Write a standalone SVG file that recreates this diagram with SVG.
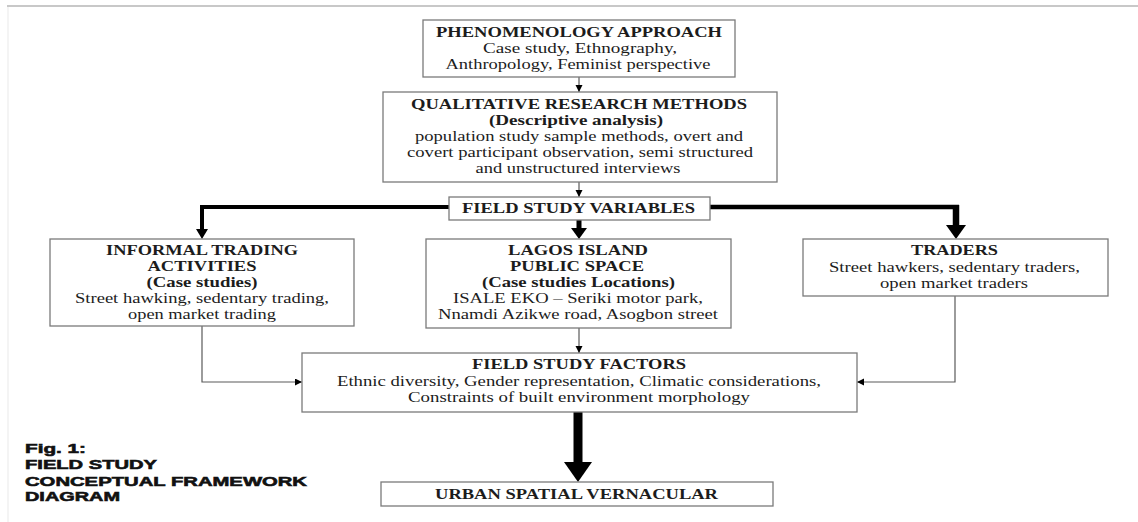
<svg xmlns="http://www.w3.org/2000/svg" width="1138" height="522" viewBox="0 0 1138 522">
<defs>
<style>
.box{fill:#fff;stroke:#7a7a7a;stroke-width:1.3}
.t{font-family:"Liberation Serif","Times New Roman",serif;fill:#1c1c1c;text-anchor:middle}
.b{font-weight:bold;font-size:14.5px}
.r{font-size:15.5px}
.thin{fill:none;stroke:#5a5a5a;stroke-width:1.2}
.thick{fill:none;stroke:#000}
.head{fill:#000}
.fig{font-family:"Liberation Sans",Arial,sans-serif;font-weight:bold;font-size:13.5px;fill:#111;stroke:#111;stroke-width:0.6}
</style>
<marker id="ah" markerUnits="userSpaceOnUse" markerWidth="8" markerHeight="8" refX="7" refY="3.5" orient="auto">
<path d="M0,0 L7,3.5 L0,7 z" fill="#000"/>
</marker>
</defs>
<rect x="0" y="0" width="1138" height="522" fill="#fff"/>
<line x1="7" y1="6" x2="1138" y2="6" stroke="#c8c8c8" stroke-width="2"/>
<line x1="8" y1="7" x2="8" y2="522" stroke="#f0f0f0" stroke-width="1.5"/>

<g id="connectors">
<path class="thin" d="M579,77 V92" marker-end="url(#ah)"/>
<path class="thin" d="M579,182 V197" marker-end="url(#ah)"/>
<path class="thin" d="M579,328 V353" marker-end="url(#ah)"/>
<path class="thin" d="M202,326 V382 H302" marker-end="url(#ah)"/>
<path class="thin" d="M955,296 V382 H857" marker-end="url(#ah)"/>
<path class="thick" stroke-width="4" d="M449,207 H202 V230"/>
<polygon class="head" points="196,229 208,229 202,239"/>
<path class="thick" stroke-width="4.5" d="M710,207 H959"/>
<path class="thick" stroke-width="6.5" d="M956,205 V226"/>
<polygon class="head" points="946,225 966,225 956,239"/>
<path class="thick" stroke-width="5" d="M579,220 V230"/>
<polygon class="head" points="571,228 587,228 579,239"/>
<path class="thick" stroke-width="9" d="M578,412 V463"/>
<polygon class="head" points="564,462 592,462 578,482"/>
</g>

<g id="phenomenology">
<rect class="box" x="423" y="20" width="312" height="57"/>
<text class="t b" x="579" y="37" textLength="286" lengthAdjust="spacingAndGlyphs">PHENOMENOLOGY APPROACH</text>
<text class="t r" x="580" y="53" textLength="194" lengthAdjust="spacingAndGlyphs">Case study, Ethnography,</text>
<text class="t r" x="578" y="69" textLength="265" lengthAdjust="spacingAndGlyphs">Anthropology, Feminist perspective</text>
</g>

<g id="qualitative">
<rect class="box" x="383" y="92" width="394" height="90"/>
<text class="t b" x="579" y="109" textLength="336" lengthAdjust="spacingAndGlyphs">QUALITATIVE RESEARCH METHODS</text>
<text class="t b" x="576" y="125" textLength="174" lengthAdjust="spacingAndGlyphs">(Descriptive analysis)</text>
<text class="t r" x="579" y="141" textLength="328" lengthAdjust="spacingAndGlyphs">population study sample methods, overt and</text>
<text class="t r" x="580" y="157" textLength="346" lengthAdjust="spacingAndGlyphs">covert participant observation, semi structured</text>
<text class="t r" x="578" y="173" textLength="205" lengthAdjust="spacingAndGlyphs">and unstructured interviews</text>
</g>

<g id="variables">
<rect class="box" x="449" y="197" width="261" height="23"/>
<text class="t b" x="578.5" y="213" textLength="233" lengthAdjust="spacingAndGlyphs">FIELD STUDY VARIABLES</text>
</g>

<g id="informal">
<rect class="box" x="50" y="239" width="304" height="87"/>
<text class="t b" x="202" y="255" textLength="192" lengthAdjust="spacingAndGlyphs">INFORMAL TRADING</text>
<text class="t b" x="202" y="271" textLength="109" lengthAdjust="spacingAndGlyphs">ACTIVITIES</text>
<text class="t b" x="202" y="287" textLength="111" lengthAdjust="spacingAndGlyphs">(Case studies)</text>
<text class="t r" x="202" y="303" textLength="254" lengthAdjust="spacingAndGlyphs">Street hawking, sedentary trading,</text>
<text class="t r" x="202" y="319" textLength="148" lengthAdjust="spacingAndGlyphs">open market trading</text>
</g>

<g id="lagos">
<rect class="box" x="426" y="239" width="305" height="89"/>
<text class="t b" x="578" y="255" textLength="140" lengthAdjust="spacingAndGlyphs">LAGOS ISLAND</text>
<text class="t b" x="577" y="271" textLength="134" lengthAdjust="spacingAndGlyphs">PUBLIC SPACE</text>
<text class="t b" x="578.5" y="287" textLength="193" lengthAdjust="spacingAndGlyphs">(Case studies Locations)</text>
<text class="t r" x="578" y="303" textLength="250" lengthAdjust="spacingAndGlyphs">ISALE EKO – Seriki motor park,</text>
<text class="t r" x="578" y="319" textLength="280" lengthAdjust="spacingAndGlyphs">Nnamdi Azikwe road, Asogbon street</text>
</g>

<g id="traders">
<rect class="box" x="803" y="239" width="305" height="57"/>
<text class="t b" x="954.5" y="255" textLength="87" lengthAdjust="spacingAndGlyphs">TRADERS</text>
<text class="t r" x="954.5" y="272" textLength="251" lengthAdjust="spacingAndGlyphs">Street hawkers, sedentary traders,</text>
<text class="t r" x="954" y="288" textLength="148" lengthAdjust="spacingAndGlyphs">open market traders</text>
</g>

<g id="factors">
<rect class="box" x="302" y="353" width="555" height="59"/>
<text class="t b" x="579" y="369" textLength="214" lengthAdjust="spacingAndGlyphs">FIELD STUDY FACTORS</text>
<text class="t r" x="579" y="386" textLength="484" lengthAdjust="spacingAndGlyphs">Ethnic diversity, Gender representation, Climatic considerations,</text>
<text class="t r" x="579" y="402" textLength="342" lengthAdjust="spacingAndGlyphs">Constraints of built environment morphology</text>
</g>

<g id="urban">
<rect class="box" x="381" y="482" width="392" height="24"/>
<text class="t b" x="576.5" y="499" textLength="283" lengthAdjust="spacingAndGlyphs">URBAN SPATIAL VERNACULAR</text>
</g>

<g id="caption">
<text class="fig" x="25" y="453" textLength="61" lengthAdjust="spacingAndGlyphs">Fig. 1:</text>
<text class="fig" x="25" y="469" textLength="132" lengthAdjust="spacingAndGlyphs">FIELD STUDY</text>
<text class="fig" x="25" y="486" textLength="282" lengthAdjust="spacingAndGlyphs">CONCEPTUAL FRAMEWORK</text>
<text class="fig" x="25" y="501" textLength="95" lengthAdjust="spacingAndGlyphs">DIAGRAM</text>
</g>
</svg>
